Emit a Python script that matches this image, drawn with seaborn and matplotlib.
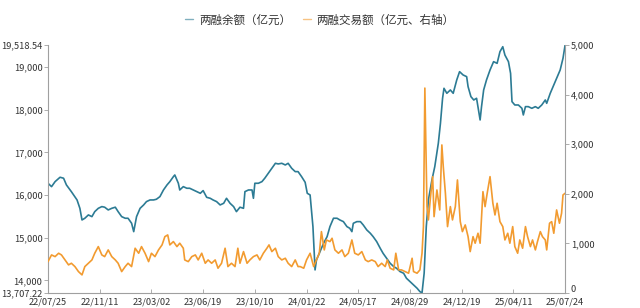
import numpy as np
import pandas as pd
import matplotlib
matplotlib.use("Agg")
import matplotlib.pyplot as plt
import matplotlib.transforms as mtransforms
import seaborn as sns
from matplotlib.lines import Line2D

# ---- data (trading-day index) ----
bal_day = [0, 5, 10, 17, 22, 26, 33, 41, 45, 48, 52, 57, 62, 66, 71, 76, 80, 85, 90, 95,
           99, 104, 109, 113, 118, 121, 125, 130, 135, 139, 144, 149, 153, 158, 163, 168,
           172, 177, 179, 184, 186, 191, 196, 200, 205, 210, 215, 219, 224, 229, 233, 238,
           243, 248, 252, 257, 262, 266, 271, 276, 278, 283, 288, 290, 292, 297, 302, 306,
           311, 316, 321, 325, 330, 335, 339, 344, 349, 353, 358, 363, 366, 370, 374, 377,
           379, 384, 389, 394, 398, 403, 408, 412, 417, 422, 426, 429, 431, 436, 441, 445,
           450, 455, 459, 464, 469, 473, 478, 483, 488, 492, 497, 502, 506, 511, 516, 521,
           525, 528, 531, 534, 537, 542, 546, 551, 554, 557, 559, 563, 568, 572, 577, 581,
           586, 591, 593, 597, 601, 605, 610, 612, 615, 619, 624, 629, 634, 638, 642, 645,
           650, 653, 655, 659, 664, 669, 671, 674, 678, 683, 688, 692, 697, 702, 704, 709,
           714, 718, 723, 727, 730]
balance = [16277, 16198, 16315, 16418, 16395, 16238, 16080, 15886, 15690, 15417, 15457,
           15535, 15495, 15612, 15690, 15730, 15716, 15652, 15690, 15716, 15612, 15495,
           15457, 15457, 15340, 15143, 15495, 15690, 15769, 15847, 15886, 15886, 15902,
           15964, 16120, 16238, 16315, 16432, 16472, 16277, 16120, 16198, 16160, 16160,
           16120, 16081, 16042, 16105, 15948, 15925, 15886, 15847, 15769, 15808, 15925,
           15808, 15730, 15612, 15716, 15690, 16081, 16120, 16120, 15925, 16277, 16277,
           16315, 16395, 16511, 16628, 16745, 16730, 16745, 16706, 16745, 16628, 16550,
           16550, 16432, 16300, 16042, 16003, 15261, 14246, 14480, 14675, 14870, 15026,
           15261, 15457, 15457, 15417, 15378, 15261, 15222, 15143, 15339, 15378, 15378,
           15300, 15183, 15105, 15026, 14909, 14753, 14636, 14519, 14402, 14324, 14285,
           14207, 14168, 14051, 13972, 13895, 13817, 13738, 13707.22, 14168, 15261, 15886,
           16355, 16667, 17214, 17683, 18269, 18503, 18386, 18464, 18386, 18698, 18893,
           18815, 18776, 18542, 18308, 18229, 18269, 17761, 18073, 18464, 18698, 18932,
           19127, 19088, 19361, 19478, 19283, 19127, 18854, 18190, 18112, 18112, 18034,
           17878, 18073, 18073, 18034, 18073, 18034, 18112, 18229, 18151, 18386, 18581,
           18737, 18932, 19206, 19518.54]

vol_day = [0, 5, 10, 15, 19, 24, 29, 33, 38, 43, 48, 52, 57, 62, 66, 71, 76, 80, 85, 90,
           95, 99, 104, 109, 113, 118, 123, 128, 132, 137, 142, 146, 151, 156, 161, 165,
           169, 172, 177, 182, 186, 191, 193, 198, 203, 208, 212, 217, 222, 226, 231, 236,
           240, 245, 250, 254, 259, 264, 268, 271, 276, 281, 285, 290, 295, 299, 304, 309,
           312, 316, 321, 325, 330, 335, 339, 344, 349, 353, 356, 361, 365, 370, 375, 379,
           383, 386, 390, 393, 398, 401, 405, 410, 415, 419, 424, 429, 433, 438, 443, 448,
           452, 457, 462, 466, 471, 476, 479, 483, 488, 491, 495, 499, 504, 509, 514, 516,
           521, 525, 528, 530, 532, 535, 537, 540, 543, 545, 549, 553, 556, 558, 561, 564,
           568, 571, 575, 578, 582, 585, 589, 593, 596, 600, 603, 607, 610, 614, 617, 620,
           624, 628, 631, 634, 638, 642, 645, 649, 652, 656, 659, 663, 666, 670, 674, 677,
           681, 684, 688, 691, 695, 698, 702, 704, 708, 711, 714, 718, 722, 725, 727, 730]
volume = [631, 766, 732, 800, 766, 665, 565, 598, 531, 430, 363, 531, 598, 665, 800, 934,
          766, 732, 867, 732, 665, 598, 430, 531, 598, 531, 901, 800, 934, 800, 631, 800,
          732, 867, 968, 1135, 1169, 968, 1035, 934, 1002, 901, 665, 631, 732, 766, 665,
          800, 598, 665, 598, 665, 498, 598, 901, 531, 598, 531, 901, 598, 833, 598, 665,
          732, 766, 665, 800, 901, 968, 833, 901, 732, 665, 699, 598, 531, 665, 531, 531,
          498, 665, 800, 531, 665, 800, 1236, 867, 1068, 1035, 1102, 867, 800, 867, 732,
          800, 1068, 800, 766, 833, 665, 631, 665, 631, 531, 598, 531, 665, 498, 464, 800,
          464, 464, 430, 397, 699, 430, 397, 464, 800, 1337, 4130, 1740, 1472, 1941, 2345,
          1538, 2076, 1673, 2984, 2546, 2010, 1337, 1740, 1472, 1740, 2278, 1437, 1236,
          1371, 1135, 833, 1135, 1002, 1203, 1002, 2042, 1740, 2010, 2345, 1808, 1572,
          1808, 1437, 1337, 1068, 1203, 1002, 1337, 934, 800, 1068, 901, 1337, 1135, 934,
          1068, 867, 1035, 1236, 1135, 1068, 867, 1405, 1437, 1203, 1673, 1405, 1607, 1975,
          2010]

tick_days = [0, 73, 146, 219, 292, 365, 438, 511, 584, 657, 730]
tick_labels = ["22/07/25", "22/11/11", "23/03/02", "23/06/19", "23/10/10", "24/01/22",
               "24/05/17", "24/08/29", "24/12/19", "25/04/11", "25/07/24"]
left_ticks = [13707.22, 14000, 15000, 16000, 17000, 18000, 19000, 19518.54]
right_ticks = [0, 1000, 2000, 3000, 4000, 5000]
series_names = ["两融余额（亿元）", "两融交易额（亿元、右轴）"]

# ---- styling ----
sns.set_style("white")
plt.rcParams["font.family"] = ["Noto Sans CJK SC", "DejaVu Sans"]
TEAL = "#2c7b94"
ORANGE = "#f29b30"
AXC = "#a0a0a0"
TXT = "#333333"

fig = plt.figure(figsize=(6.4, 3.08), dpi=100)
ax = fig.add_axes([0.075, 0.049, 0.808, 0.805])
ax2 = ax.twinx()

df_b = pd.DataFrame({"day": bal_day, "v": balance})
df_v = pd.DataFrame({"day": vol_day, "v": volume})
sns.lineplot(data=df_b, x="day", y="v", ax=ax, color=TEAL, linewidth=1.2)
sns.lineplot(data=df_v, x="day", y="v", ax=ax2, color=ORANGE, linewidth=1.2)

ax.set_xlim(0, 730)
ax.set_ylim(left_ticks[0], left_ticks[-1])
ax2.set_ylim(0, 5000)

ax.set_xticks(tick_days)
ax.set_xticklabels(tick_labels)
ax.set_yticks(left_ticks)
ax.set_yticklabels([f"{t:,.2f}" if t % 1 else f"{t:,.0f}" for t in left_ticks])
ax2.set_yticks(right_ticks)
ax2.set_yticklabels([f"{t:,.0f}" for t in right_ticks])

for a in (ax, ax2):
    a.set_xlabel("")
    a.set_ylabel("")
    a.spines["top"].set_visible(False)
    for s in ("left", "right", "bottom"):
        a.spines[s].set_color(AXC)
        a.spines[s].set_linewidth(0.8)
    a.tick_params(axis="y", which="both", length=3, width=0.6, color=AXC,
                  labelsize=6.7, labelcolor=TXT, pad=1)
ax.spines["right"].set_visible(False)
ax2.spines["left"].set_visible(False)
ax2.spines["bottom"].set_visible(False)
ax.tick_params(axis="y", left=True)
ax.tick_params(axis="x", bottom=True, direction="in", length=3, width=0.6, color=AXC,
               labelsize=6.7, labelcolor=TXT, pad=3)
ax2.tick_params(axis="y", right=True)

# nudge the right-axis "0" label up slightly so it clears the last date label
zero_lbl = ax2.get_yticklabels()[0]
zero_lbl.set_transform(zero_lbl.get_transform() +
                       mtransforms.ScaledTranslation(0, 3 / 72, fig.dpi_scale_trans))

handles = [Line2D([], [], color=TEAL, lw=1.0, alpha=0.6),
           Line2D([], [], color=ORANGE, lw=1.0, alpha=0.6)]
fig.legend(handles, series_names, loc="center", bbox_to_anchor=(0.5, 0.935), ncol=2,
           frameon=False, fontsize=8.3, handlelength=0.7, handletextpad=0.5,
           columnspacing=1.0, labelcolor=TXT)

fig.savefig("out.png", dpi=100)
